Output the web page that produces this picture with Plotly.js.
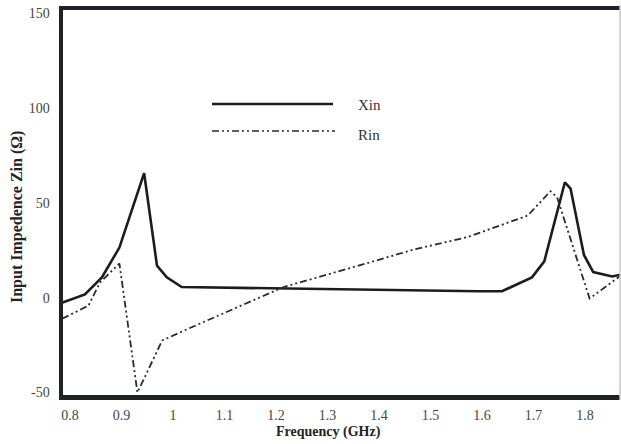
<!DOCTYPE html>
<html>
<head>
<meta charset="utf-8">
<script src="https://cdn.plot.ly/plotly-3.0.1.min.js"></script>
<style>html,body{margin:0;padding:0;background:#fff;}#chart{width:621px;height:444px;}</style>
</head>
<body>
<div id="chart"></div>
<script>
// Data (frequency in GHz, impedance in ohms)
var xinFreq = [0.785, 0.829, 0.862, 0.896, 0.944, 0.969, 0.988, 1.017, 1.593, 1.639, 1.697, 1.721, 1.761, 1.772, 1.798, 1.816, 1.853, 1.874];
var xinVal  = [-2.6, 1.7, 10.7, 26.4, 65.6, 16.9, 10.7, 5.6, 3.4, 3.4, 10.7, 19.1, 60.8, 57.5, 22.5, 13.5, 11.2, 12.4];
var rinFreq = [0.785, 0.836, 0.858, 0.896, 0.931, 0.979, 1.021, 1.215, 1.353, 1.467, 1.573, 1.689, 1.733, 1.746, 1.809, 1.870];
var rinVal  = [-11.1, -4.2, 7.9, 18.0, -50, -22.6, -17.4, 5.6, 16.3, 25.3, 32.0, 43.3, 56.1, 52.8, -0.5, 11.8];
var xTicks = [0.8, 0.9, 1, 1.1, 1.2, 1.3, 1.4, 1.5, 1.6, 1.7, 1.8];
var xTickText = ["0.8", "0.9", "1", "1.1", "1.2", "1.3", "1.4", "1.5", "1.6", "1.7", "1.8"];
var yTicks = [-50, 0, 50, 100, 150];
var yTickText = ["-50", "0", "50", "100", "150"];
var seriesNames = ["Xin", "Rin"];
var xTitle = "Frequency (GHz)";
var yTitle = "Input Impedence Zin (Ω)";

var serif = '"Liberation Serif", "Times New Roman", serif';
var lineCol = "#1c1c1c";
var rinDash = "7px,3px,2px,3px,2px,3px";

var traces = [
  {x: xinFreq, y: xinVal, name: seriesNames[0], mode: "lines", type: "scatter",
   line: {color: lineCol, width: 2.6}, showlegend: false},
  {x: rinFreq, y: rinVal, name: seriesNames[1], mode: "lines", type: "scatter",
   line: {color: "#2a2a2a", width: 1.8, dash: rinDash}, showlegend: false}
];

// paper-coordinate helpers for the hand-placed legend / titles
var L = 63, T = 10, W = 557, H = 385;
function px(x) { return (x - L) / W; }
function py(y) { return (T + H - y) / H; }

var layout = {
  width: 621, height: 444,
  margin: {l: L, r: 621 - L - W, t: T, b: 444 - T - H},
  paper_bgcolor: "#fff", plot_bgcolor: "#fff",
  font: {family: serif, color: "#333", size: 14},
  showlegend: false,
  xaxis: {
    range: [0.7865, 1.868], tickmode: "array", tickvals: xTicks, ticktext: xTickText,
    showgrid: false, zeroline: false, ticks: "", ticklabelstandoff: 4,
    showline: true, linecolor: "#1f2326", linewidth: 4.5, mirror: true,
    tickfont: {family: serif, size: 14, color: "#444"}
  },
  yaxis: {
    range: [-51.3, 151.6], tickmode: "array", tickvals: yTicks, ticktext: yTickText,
    showgrid: false, zeroline: false, ticks: "", ticklabelstandoff: 6,
    showline: true, linecolor: "#1f2326", linewidth: 4.5, mirror: false,
    tickfont: {family: serif, size: 14, color: "#444"}
  },
  shapes: [
    {type: "line", xref: "paper", yref: "paper", x0: 1, x1: 1, y0: py(5), y1: py(400),
     line: {color: "#c9c9c9", width: 1.5}},
    {type: "line", xref: "paper", yref: "paper",
     x0: px(212), x1: px(333), y0: py(104), y1: py(104),
     line: {color: lineCol, width: 2.6}},
    {type: "line", xref: "paper", yref: "paper",
     x0: px(212), x1: px(335), y0: py(131), y1: py(131),
     line: {color: "#2a2a2a", width: 1.6, dash: rinDash}}
  ],
  annotations: [
    {text: seriesNames[0], xref: "paper", yref: "paper", x: px(356), y: py(105),
     xanchor: "left", yanchor: "middle", showarrow: false, font: {family: serif, size: 15, color: "#333"}},
    {text: seriesNames[1], xref: "paper", yref: "paper", x: px(356), y: py(135),
     xanchor: "left", yanchor: "middle", showarrow: false, font: {family: serif, size: 15, color: "#333"}},
    {text: "<b>" + xTitle + "</b>", xref: "paper", yref: "paper", x: px(328), y: py(432),
     xanchor: "center", yanchor: "middle", showarrow: false, font: {family: serif, size: 14, color: "#222"}},
    {text: "<b>" + yTitle + "</b>", xref: "paper", yref: "paper", x: px(17), y: py(217), textangle: -90,
     xanchor: "center", yanchor: "middle", showarrow: false, font: {family: serif, size: 16, color: "#222"}}
  ]
};

Plotly.newPlot("chart", traces, layout, {displayModeBar: false, staticPlot: true});
</script>
</body>
</html>
